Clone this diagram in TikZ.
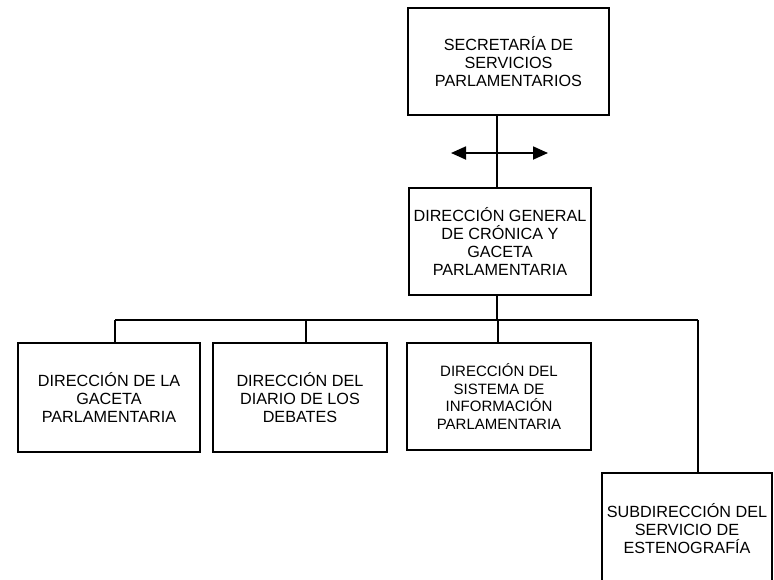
\documentclass[tikz,border=0pt]{standalone}
\usepackage{fontspec}
\setmainfont{Liberation Sans}
\usetikzlibrary{arrows.meta}
\begin{document}
\begin{tikzpicture}[x=1pt,y=-1pt,
  orgbox/.style={draw=black, line width=1.8pt, fill=white, align=center, inner sep=0pt,
    font=\fontsize{16.2}{18}\selectfont},
  smallbox/.style={orgbox, font=\fontsize{15}{17.5}\selectfont},
  conn/.style={draw=black, line width=1.4pt},
  dblarrow/.style={draw=black, line width=1.8pt, {Triangle[length=15pt,width=13pt]}-{Triangle[length=15pt,width=13pt]}}
]
\useasboundingbox (0,0) rectangle (774,579);
\clip (0,0) rectangle (774,579);
\fill[white] (0,0) rectangle (774,579);

\node[orgbox, minimum width=201pt, minimum height=107pt] (sec) at (508.5,61.5)
  {SECRETARÍA DE\\SERVICIOS\\PARLAMENTARIOS};
\node[orgbox, minimum width=182pt, minimum height=107pt] (dg) at (500,241.5)
  {DIRECCIÓN GENERAL\\DE CRÓNICA Y\\GACETA\\PARLAMENTARIA};
\node[orgbox, minimum width=182pt, minimum height=109pt] (gac) at (109,397.5)
  {DIRECCIÓN DE LA\\GACETA\\PARLAMENTARIA};
\node[orgbox, minimum width=174pt, minimum height=109pt] (dia) at (300,397.5)
  {DIRECCIÓN DEL\\DIARIO DE LOS\\DEBATES};
\node[smallbox, minimum width=184pt, minimum height=107pt] (sis) at (499,396.5)
  {DIRECCIÓN DEL\\SISTEMA DE\\INFORMACIÓN\\PARLAMENTARIA};
\node[orgbox, minimum width=170pt, minimum height=112pt] (est) at (687,529)
  {SUBDIRECCIÓN DEL\\SERVICIO DE\\ESTENOGRAFÍA};

% vertical trunk
\coordinate (sx) at (497,0);
\draw[conn] (sx |- sec.south) -- (sx |- dg.north);
% double arrow
\coordinate (al) at (451,153);
\coordinate (ar) at (548,153);
\draw[dblarrow] (al) -- (ar);

% bus
\coordinate (busL) at (115,320);
\coordinate (busR) at (698,320);
\draw[conn] (sx |- dg.south) -- (sx |- busL);
\draw[conn] (busL) -- (busR);
\draw[conn] (busL) -- (busL |- gac.north);
\coordinate (d2) at (306,320);
\draw[conn] (d2) -- (d2 |- dia.north);
\coordinate (d3) at (498,320);
\draw[conn] (d3) -- (d3 |- sis.north);
\draw[conn] (busR) -- (busR |- est.north);
\end{tikzpicture}
\end{document}
